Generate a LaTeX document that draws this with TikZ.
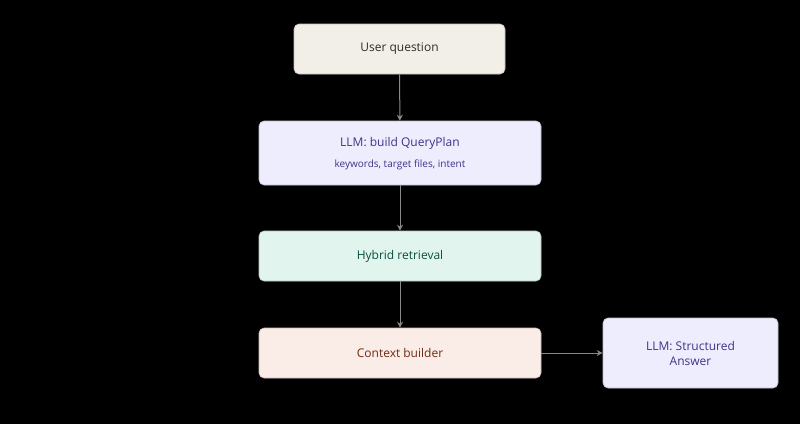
\documentclass[tikz,border=0pt]{standalone}
\usepackage{fontspec}
\setmainfont{Open Sans}
\usetikzlibrary{arrows.meta}
\definecolor{beigefill}{HTML}{F1EFE8}
\definecolor{beigetext}{HTML}{2C2C2A}
\definecolor{purplefill}{HTML}{EEEDFE}
\definecolor{purpletext}{HTML}{3C3489}
\definecolor{greenfill}{HTML}{E1F5EE}
\definecolor{greentext}{HTML}{085041}
\definecolor{coralfill}{HTML}{FAECE7}
\definecolor{coraltext}{HTML}{712B13}
\definecolor{linegray}{HTML}{8A8A86}
\tikzset{
  box/.style={draw=#1!80!black, line width=.6pt, rounded corners=5pt, align=center, inner sep=0pt},
  flow/.style={draw=linegray, line width=1pt, -{Stealth[length=6pt,width=6pt]}}
}

\begin{document}
\begin{tikzpicture}[x=1pt,y=1pt]
        \fill[black] (0,0) rectangle (800,-424);
        \useasboundingbox (0,0) rectangle (800,-424);

        \node (question) at (399.5,-49) [box=beigefill, fill=beigefill, minimum width=211, minimum height=50, text=beigetext, font=\fontsize{12}{14}\selectfont] {User question};
        \node (plan) at (400,-153) [box=purplefill, fill=purplefill, minimum width=282, minimum height=64, text=purpletext] {};
        \node (plantitle) at (400,-143) [text=purpletext, font=\fontsize{12}{14}\selectfont] {LLM: build QueryPlan};
        \node (plansub) at (400,-165) [text=purpletext, font=\fontsize{10}{12}\selectfont] {keywords, target files, intent};
        \node (hybrid) at (400,-256) [box=greenfill, fill=greenfill, minimum width=282, minimum height=50, text=greentext, font=\fontsize{12}{14}\selectfont] {Hybrid retrieval};
        \node (context) at (400,-353) [box=coralfill, fill=coralfill, minimum width=282, minimum height=50, text=coraltext, font=\fontsize{12}{14}\selectfont] {Context builder};
        \node (answer) at (690.5,-353) [box=purplefill, fill=purplefill, minimum width=175, minimum height=70, text=purpletext, font=\fontsize{12}{15}\selectfont] {LLM: Structured\\Answer};

        \draw[flow] (question) -- (plan);
        \draw[flow] (plan) -- (hybrid);
        \draw[flow] (hybrid) -- (context);
        \draw[flow] (context) -- (answer);
    \end{tikzpicture}
\end{document}
